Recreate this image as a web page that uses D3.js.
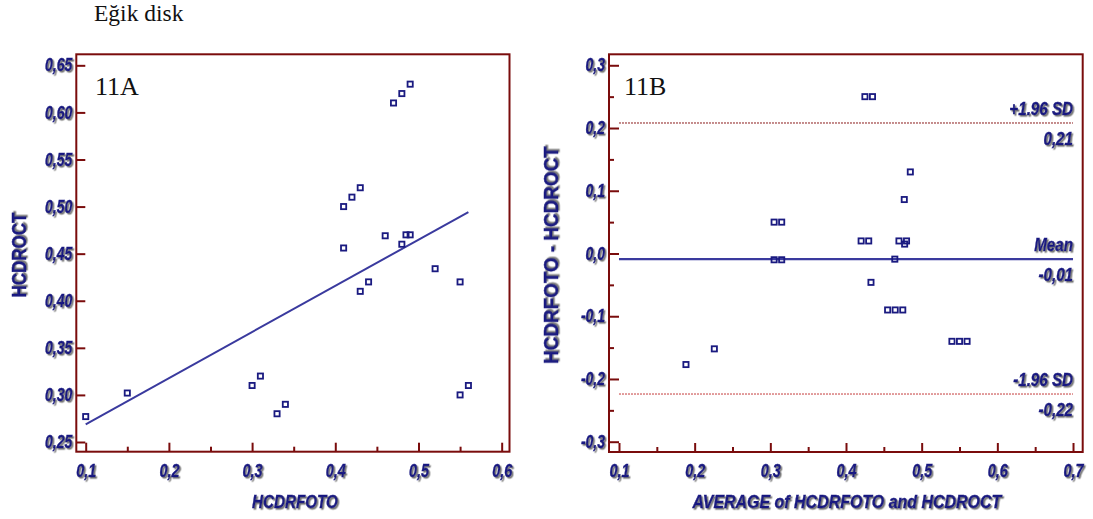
<!DOCTYPE html>
<html>
<head>
<meta charset="utf-8">
<script src="https://cdn.jsdelivr.net/npm/d3@7"></script>
<style>
  html, body { margin: 0; padding: 0; background: #fff; }
  svg { display: block; }
</style>
</head>
<body>
<svg id="chart" width="1093" height="519"></svg>
<script>
// Paired cup/disc ratio measurements (photo vs OCT), one entry per eye
const fotoValues = [0.49, 0.48, 0.47, 0.43, 0.42, 0.41, 0.41, 0.46, 0.485, 0.49, 0.48, 0.52,
                    0.55, 0.44, 0.43, 0.30, 0.31, 0.33, 0.34, 0.55, 0.56, 0.10, 0.15];
const octValues  = [0.63, 0.62, 0.61, 0.52, 0.51, 0.50, 0.456, 0.469, 0.47, 0.47, 0.46, 0.434,
                    0.42, 0.42, 0.41, 0.31, 0.32, 0.28, 0.29, 0.30, 0.31, 0.277, 0.302];

// Least-squares line shown on the scatter plot
const fitCoefficients = [0.2198, 0.49];   // intercept, slope
const fitRange = [0.1, 0.56];

// Bland-Altman reference levels
const limitNames  = ["+1.96 SD", "Mean", "-1.96 SD"];
const limitValues = [0.208, -0.009, -0.224];

// Tick values
const xTicksA      = [0.1, 0.2, 0.3, 0.4, 0.5, 0.6];
const xMinorTicksA = [0.15, 0.25, 0.35, 0.45, 0.55];
const yTicksA      = [0.25, 0.30, 0.35, 0.40, 0.45, 0.50, 0.55, 0.60, 0.65];
const xTicksB      = [0.1, 0.2, 0.3, 0.4, 0.5, 0.6, 0.7];
const xMinorTicksB = [0.15, 0.25, 0.35, 0.45, 0.55, 0.65];
const yTicksB      = [-0.3, -0.2, -0.1, 0.0, 0.1, 0.2, 0.3];
const yMinorTicksB = [-0.25, -0.15, -0.05, 0.05, 0.15, 0.25];

const NAVY = "#1a1a80";
const LINE_BLUE = "#3a3a9e";
const MAROON = "#7a0c0c";
const SANS = "'Liberation Sans', Arial, sans-serif";
const SERIF = "'Liberation Serif', 'Times New Roman', serif";

const locale = d3.formatLocale({ decimal: ",", thousands: ".", grouping: [3], currency: ["", ""], minus: "-" });
const fmt1 = locale.format(".1f");
const fmt2 = locale.format(".2f");

const svg = d3.select("#chart");

// grey drop shadow used under the blue lettering
const defs = svg.append("defs");
defs.append("filter")
    .attr("id", "shadow")
    .attr("x", "-20%").attr("y", "-30%").attr("width", "150%").attr("height", "170%")
  .append("feDropShadow")
    .attr("dx", 1.5).attr("dy", 1.5).attr("stdDeviation", 0.7)
    .attr("flood-color", "#6e6e6e").attr("flood-opacity", 0.95);

// condensed lettering: squeeze glyphs horizontally to a fraction of their natural width
function condense(sel, factor) {
  sel.each(function () {
    const w = this.getComputedTextLength();
    if (w > 0) {
      d3.select(this)
        .attr("textLength", w * factor)
        .attr("lengthAdjust", "spacingAndGlyphs");
    }
  });
}

// Title
svg.append("text")
  .attr("x", 94).attr("y", 21)
  .attr("font-family", SERIF).attr("font-size", 23.5)
  .attr("fill", "#111")
  .text("Eğik disk");

function styleAxis(g, size, factor) {
  g.select(".domain").remove();
  g.selectAll(".tick line").attr("stroke", MAROON).attr("stroke-width", 2);
  g.selectAll(".tick text")
    .attr("fill", NAVY)
    .attr("stroke", NAVY).attr("stroke-width", 0.4)
    .attr("font-family", SANS)
    .attr("font-size", size)
    .attr("font-weight", "bold")
    .attr("font-style", "italic")
    .attr("filter", "url(#shadow)")
    .call(condense, factor);
}

function frame(x, y) {
  const [x0, x1] = x.range();
  const [y0, y1] = y.range();
  svg.append("rect")
    .attr("x", x0).attr("y", y1)
    .attr("width", x1 - x0).attr("height", y0 - y1)
    .attr("fill", "none")
    .attr("stroke", MAROON).attr("stroke-width", 2);
}

function squares(g, xs, ys, x, y) {
  g.selectAll("rect.pt")
    .data(d3.range(xs.length))
    .join("rect")
    .attr("class", "pt")
    .attr("x", i => x(xs[i]) - 2.6)
    .attr("y", i => y(ys[i]) - 2.6)
    .attr("width", 5.2).attr("height", 5.2)
    .attr("fill", "none")
    .attr("stroke", NAVY).attr("stroke-width", 1.8);
}

function blueLabel(g, size, italic) {
  return g.append("text")
    .attr("font-family", SANS).attr("font-size", size)
    .attr("font-weight", "bold")
    .attr("font-style", italic ? "italic" : "normal")
    .attr("fill", NAVY)
    .attr("stroke", NAVY).attr("stroke-width", 0.4)
    .attr("filter", "url(#shadow)");
}

// ---------- Panel A: scatter with regression line ----------
const xA = d3.scaleLinear([0.0887, 0.6094], [76.3, 509.5]);
const yA = d3.scaleLinear([0.2397, 0.6617], [451.7, 54.3]);

const gA = svg.append("g");

gA.append("g")
  .attr("transform", `translate(0,${yA.range()[0]})`)
  .call(d3.axisBottom(xA).tickValues(xTicksA).tickFormat(fmt1)
        .tickSizeInner(-9).tickSizeOuter(0).tickPadding(12))
  .call(g => styleAxis(g, 18.5, 0.78));

gA.append("g")
  .attr("transform", `translate(0,${yA.range()[0]})`)
  .call(d3.axisBottom(xA).tickValues(xMinorTicksA).tickFormat("")
        .tickSizeInner(-5).tickSizeOuter(0))
  .call(g => styleAxis(g, 18, 1));

gA.append("g")
  .attr("transform", `translate(${xA.range()[0]},0)`)
  .call(d3.axisLeft(yA).tickValues(yTicksA).tickFormat(fmt2)
        .tickSizeInner(-9).tickSizeOuter(0).tickPadding(4))
  .call(g => styleAxis(g, 17.5, 0.8));

frame(xA, yA);

// regression line
gA.append("path")
  .datum(fitRange)
  .attr("fill", "none")
  .attr("stroke", LINE_BLUE).attr("stroke-width", 2)
  .attr("d", d3.line()
    .x(d => xA(d))
    .y(d => yA(fitCoefficients[0] + fitCoefficients[1] * d)));

squares(gA, fotoValues, octValues, xA, yA);

gA.append("text")
  .attr("x", 95).attr("y", 95)
  .attr("font-family", SERIF).attr("font-size", 26)
  .attr("fill", "#111")
  .text("11A");

blueLabel(gA, 19, true)
  .attr("x", (xA.range()[0] + xA.range()[1]) / 2 + 2).attr("y", 508)
  .attr("text-anchor", "middle")
  .text("HCDRFOTO")
  .call(condense, 0.8);

blueLabel(gA, 20, false)
  .attr("transform", `translate(26,${(yA.range()[0] + yA.range()[1]) / 2 + 2}) rotate(-90)`)
  .attr("text-anchor", "middle")
  .text("HCDROCT")
  .call(condense, 0.85);

// ---------- Panel B: Bland-Altman plot ----------
const avgValues  = fotoValues.map((f, i) => (f + octValues[i]) / 2);
const diffValues = fotoValues.map((f, i) => f - octValues[i]);

const xB = d3.scaleLinear([0.0868, 0.7128], [609, 1082.7]);
const yB = d3.scaleLinear([-0.3164, 0.3175], [452, 54.3]);

const gB = svg.append("g");

gB.append("g")
  .attr("transform", `translate(0,${yB.range()[0]})`)
  .call(d3.axisBottom(xB).tickValues(xTicksB).tickFormat(fmt1)
        .tickSizeInner(-9).tickSizeOuter(0).tickPadding(12))
  .call(g => styleAxis(g, 18.5, 0.78));

gB.append("g")
  .attr("transform", `translate(0,${yB.range()[0]})`)
  .call(d3.axisBottom(xB).tickValues(xMinorTicksB).tickFormat("")
        .tickSizeInner(-5).tickSizeOuter(0))
  .call(g => styleAxis(g, 18, 1));

gB.append("g")
  .attr("transform", `translate(${xB.range()[0]},0)`)
  .call(d3.axisLeft(yB).tickValues(yTicksB).tickFormat(fmt1)
        .tickSizeInner(-10).tickSizeOuter(0).tickPadding(4))
  .call(g => styleAxis(g, 17.5, 0.8));

gB.append("g")
  .attr("transform", `translate(${xB.range()[0]},0)`)
  .call(d3.axisLeft(yB).tickValues(yMinorTicksB).tickFormat("")
        .tickSizeInner(-5).tickSizeOuter(0))
  .call(g => styleAxis(g, 17, 1));

frame(xB, yB);

// mean and limits of agreement
const limitStyles = [
  { stroke: "#8a1a1a", width: 1, dash: "2,1" },
  { stroke: LINE_BLUE, width: 2.2, dash: null },
  { stroke: "#c43a3a", width: 1, dash: "2,1" }
];
const refX = [xTicksB[0], xTicksB[xTicksB.length - 1]];

limitValues.forEach((v, i) => {
  const s = limitStyles[i];
  gB.append("line")
    .attr("x1", xB(refX[0])).attr("x2", xB(refX[1]))
    .attr("y1", yB(v)).attr("y2", yB(v))
    .attr("stroke", s.stroke).attr("stroke-width", s.width)
    .attr("stroke-dasharray", s.dash);

  blueLabel(gB, 18.5, true)
    .attr("text-anchor", "end")
    .attr("x", xB(refX[1])).attr("y", yB(v) - 8)
    .text(limitNames[i])
    .call(condense, 0.82);
  blueLabel(gB, 18.5, true)
    .attr("text-anchor", "end")
    .attr("x", xB(refX[1])).attr("y", yB(v) + 22)
    .text(fmt2(v))
    .call(condense, 0.82);
});

squares(gB, avgValues, diffValues, xB, yB);

gB.append("text")
  .attr("x", 624).attr("y", 95)
  .attr("font-family", SERIF).attr("font-size", 26)
  .attr("fill", "#111")
  .text("11B");

blueLabel(gB, 19, true)
  .attr("x", (xB.range()[0] + xB.range()[1]) / 2 + 1).attr("y", 508)
  .attr("text-anchor", "middle")
  .text("AVERAGE of HCDRFOTO and HCDROCT")
  .call(condense, 0.84);

blueLabel(gB, 20.5, false)
  .attr("transform", `translate(558,${(yB.range()[0] + yB.range()[1]) / 2 + 2}) rotate(-90)`)
  .attr("text-anchor", "middle")
  .text("HCDRFOTO - HCDROCT")
  .call(condense, 0.92);
</script>
</body>
</html>
